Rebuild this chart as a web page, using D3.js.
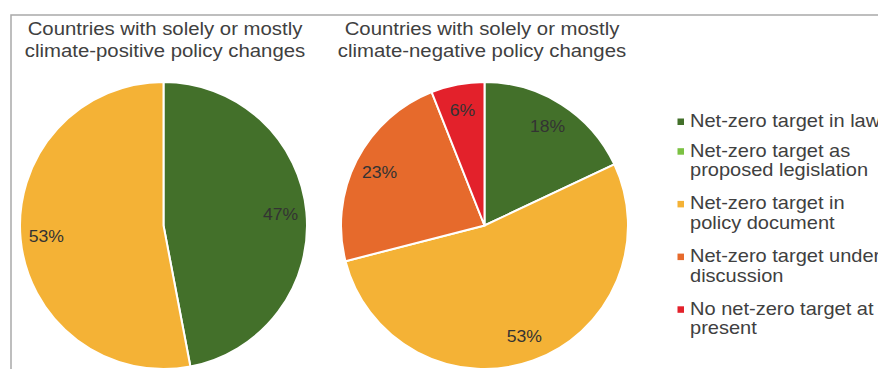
<!DOCTYPE html>
<html>
<head>
<meta charset="utf-8">
<script src="https://cdn.jsdelivr.net/npm/d3@7"></script>
<style>
  html, body { margin: 0; padding: 0; background: #fff; }
  svg { display: block; font-family: "Liberation Sans", Arial, sans-serif; }
</style>
</head>
<body>
<svg id="chart" width="878" height="369"></svg>
<script>
// ---- data ----
const categories = [
  "Net-zero target in law",
  "Net-zero target as proposed legislation",
  "Net-zero target in policy document",
  "Net-zero target under discussion",
  "No net-zero target at present"
];
const legendLines = [
  ["Net-zero target in law"],
  ["Net-zero target as", "proposed legislation"],
  ["Net-zero target in", "policy document"],
  ["Net-zero target under", "discussion"],
  ["No net-zero target at", "present"]
];
const colors = ["#43702a", "#7bc142", "#f4b236", "#e66a2c", "#e3212b"];
const positiveValues = [47, 0, 53, 0, 0];
const negativeValues = [18, 0, 53, 23, 6];
const titlePositive = ["Countries with solely or mostly", "climate-positive policy changes"];
const titleNegative = ["Countries with solely or mostly", "climate-negative policy changes"];

// ---- layout ----
const svg = d3.select("#chart");
const textColor = "#404040";
const R = 143.5;
const XS = 1.1; // horizontal text stretch of the original

// frame
svg.append("path")
  .attr("d", "M11,380 L11,15 L890,15")
  .attr("fill", "none")
  .attr("stroke", "#a9a9a9")
  .attr("stroke-width", 1.5);

const pie = d3.pie().sort(null).value(d => d);
const arc = d3.arc().innerRadius(0).outerRadius(R);
const labelArc = d3.arc().innerRadius(R * 0.82).outerRadius(R * 0.82);
const color = d3.scaleOrdinal().domain(d3.range(categories.length)).range(colors);

function drawPie(cx, cy, values, title, titleX) {
  const g = svg.append("g").attr("transform", `translate(${cx},${cy})`);
  const arcs = pie(values).map((a, i) => Object.assign(a, { idx: i })).filter(a => a.value > 0);
  g.selectAll("path.slice").data(arcs).join("path")
    .attr("class", "slice")
    .attr("d", arc)
    .attr("fill", d => color(d.idx))
    .attr("stroke", "#fff")
    .attr("stroke-width", 2);
  g.selectAll("g.lbl").data(arcs).join("g")
    .attr("class", "lbl")
    .attr("transform", d => { const c = labelArc.centroid(d); return `translate(${c[0]},${c[1]}) scale(${XS},1)`; })
    .append("text")
    .attr("text-anchor", "middle")
    .attr("dy", "0.35em")
    .attr("font-size", 16)
    .attr("fill", "#333")
    .text(d => d.value + "%");

  const tg = svg.append("g").attr("transform", `translate(${titleX},0) scale(${XS},1)`);
  tg.selectAll("text").data(title).join("text")
    .attr("x", 0)
    .attr("y", (d, i) => 35 + i * 22)
    .attr("text-anchor", "middle")
    .attr("font-size", 18.5)
    .attr("fill", textColor)
    .text(d => d);
}

drawPie(163.5, 225.5, positiveValues, titlePositive, 165);
drawPie(484.5, 225.5, negativeValues, titleNegative, 482);

// legend
const legend = svg.append("g");
let y = 127;
legendLines.forEach((lines, i) => {
  legend.append("rect")
    .attr("x", 677.5).attr("y", y - 8.5)
    .attr("width", 6.5).attr("height", 6.5)
    .attr("fill", colors[i]);
  const tg = legend.append("g").attr("transform", `translate(690,${y}) scale(${XS},1)`);
  tg.selectAll("text").data(lines).join("text")
    .attr("x", 0)
    .attr("y", (d, j) => j * 19.5)
    .attr("font-size", 18.2)
    .attr("fill", textColor)
    .text(d => d);
  y += 29.7 + (lines.length - 1) * 23;
});
</script>
</body>
</html>
